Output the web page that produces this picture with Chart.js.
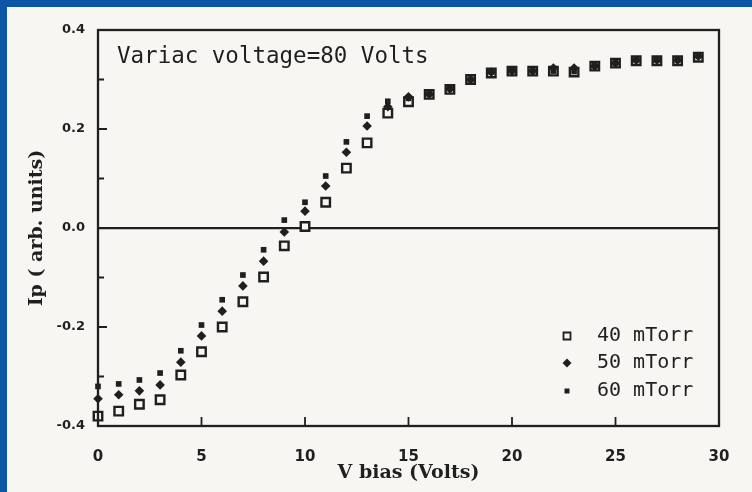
<!DOCTYPE html>
<html>
<head>
<meta charset="utf-8">
<script src="https://cdn.jsdelivr.net/npm/chart.js@4.4.1/dist/chart.umd.min.js"></script>
<style>
  html, body { margin: 0; padding: 0; }
  body { width: 752px; height: 492px; background: #0a56a5; position: relative; overflow: hidden; }
  #panel { position: absolute; left: 7px; top: 7px; width: 745px; height: 485px; background: #f7f6f3; }
  #wrap { position: absolute; left: 0; top: 0; width: 752px; height: 492px; }
</style>
</head>
<body>
<div id="panel"></div>
<div id="wrap"><canvas id="ipChart"></canvas></div>
<script>
// bias voltage (V)
const vBias = [0, 1, 2, 3, 4, 5, 6, 7, 8, 9, 10, 11, 12, 13, 14,
               15, 16, 17, 18, 19, 20, 21, 22, 23, 24, 25, 26, 27, 28, 29];

// probe current, arb. units
const ip40 = [-0.380, -0.370, -0.356, -0.347, -0.297, -0.250, -0.200, -0.149, -0.099, -0.036,
               0.003,  0.052,  0.121,  0.172,  0.232,  0.255,  0.270,  0.280,  0.300,  0.313,
               0.317,  0.317,  0.317,  0.315,  0.327,  0.333,  0.338,  0.338,  0.338,  0.345];
const ip50 = [-0.345, -0.337, -0.329, -0.317, -0.271, -0.218, -0.168, -0.117, -0.067, -0.008,
               0.034,  0.085,  0.153,  0.206,  0.245,  0.265,  0.270,  0.281,  0.300,  0.315,
               0.317,  0.317,  0.323,  0.323,  0.327,  0.333,  0.339,  0.339,  0.339,  0.347];
const ip60 = [-0.320, -0.315, -0.307, -0.293, -0.248, -0.196, -0.145, -0.095, -0.044,  0.016,
               0.052,  0.105,  0.174,  0.226,  0.256,  0.262,  0.272,  0.282,  0.300,  0.315,
               0.318,  0.318,  0.317,  0.316,  0.328,  0.334,  0.340,  0.340,  0.340,  0.348];

const seriesNames = ['40 mTorr', '50 mTorr', '60 mTorr'];
const xTicks = [0, 5, 10, 15, 20, 25, 30];
const yTicks = [-0.4, -0.2, 0.0, 0.2, 0.4];

const ink = '#1f1f1f';
const paper = '#f7f6f3';

function toPoints(ys) {
    return vBias.map((v, i) => ({ x: v, y: ys[i] }));
}

// frame, inward ticks, note and legend
const framePlugin = {
    id: 'frame',
    afterDraw(chart) {
        const { ctx, chartArea: a, scales } = chart;
        ctx.save();
        ctx.strokeStyle = ink;
        ctx.lineWidth = 2.3;
        ctx.strokeRect(a.left, a.top, a.right - a.left, a.bottom - a.top);

        ctx.lineWidth = 1.8;
        ctx.beginPath();
        for (let k = -3; k <= 3; k++) {
            const y = scales.y.getPixelForValue(k / 10);
            const len = (k % 2 === 0) ? 9 : 6;
            ctx.moveTo(a.left, y);
            ctx.lineTo(a.left + len, y);
        }
        xTicks.slice(1, -1).forEach(v => {
            const x = scales.x.getPixelForValue(v);
            ctx.moveTo(x, a.bottom);
            ctx.lineTo(x, a.bottom - 9);
        });
        ctx.stroke();

        ctx.fillStyle = ink;
        ctx.textBaseline = 'middle';
        ctx.textAlign = 'left';
        ctx.font = '22.5px "DejaVu Sans Mono"';
        ctx.fillText('Variac voltage=80 Volts', 117, 57);

        // legend
        ctx.font = '20px "DejaVu Sans Mono"';
        const rows = [336, 363, 391];
        chart.data.datasets.forEach((ds, i) => {
            const mx = 567, my = rows[i];
            ctx.beginPath();
            if (ds.pointStyle === 'rectRot') {
                ctx.moveTo(mx, my - 4.5); ctx.lineTo(mx + 4.5, my);
                ctx.lineTo(mx, my + 4.5); ctx.lineTo(mx - 4.5, my);
                ctx.closePath();
                ctx.fill();
            } else if (ds.borderWidth > 0) {
                ctx.lineWidth = 1.8;
                ctx.rect(mx - 3.5, my - 3.5, 7, 7);
                ctx.stroke();
            } else {
                ctx.rect(mx - 2.5, my - 2.5, 5, 5);
                ctx.fill();
            }
            ctx.fillText(ds.label, 597, my);
        });
        ctx.restore();
    }
};

new Chart(document.getElementById('ipChart'), {
    type: 'scatter',
    data: {
        datasets: [
            { label: seriesNames[0], data: toPoints(ip40), pointStyle: 'rect', pointRadius: 6,
              borderWidth: 2.4, borderColor: ink, backgroundColor: paper, order: 3, clip: false },
            { label: seriesNames[1], data: toPoints(ip50), pointStyle: 'rectRot', pointRadius: 4.8,
              borderWidth: 0, borderColor: ink, backgroundColor: ink, order: 2, clip: false },
            { label: seriesNames[2], data: toPoints(ip60), pointStyle: 'rect', pointRadius: 4,
              borderWidth: 0, borderColor: ink, backgroundColor: ink, order: 1, clip: false }
        ]
    },
    options: {
        responsive: true,
        maintainAspectRatio: false,
        animation: false,
        layout: { padding: { left: 0, top: 30, right: 33, bottom: 0 } },
        plugins: { legend: { display: false }, tooltip: { enabled: false } },
        elements: { point: { hoverRadius: 0 } },
        scales: {
            x: {
                type: 'linear',
                min: 0,
                max: 30,
                afterFit(scale) { scale.height = 66; },
                afterBuildTicks(scale) { scale.ticks = xTicks.map(v => ({ value: v })); },
                grid: { display: false },
                border: { display: false },
                ticks: {
                    padding: 14,
                    color: ink,
                    font: { family: 'DejaVu Sans', weight: 'bold', size: 15 }
                },
                title: {
                    display: true,
                    text: 'V bias (Volts)',
                    color: ink,
                    padding: { top: 0, bottom: 8 },
                    font: { family: 'DejaVu Serif', weight: 'bold', size: 19 }
                }
            },
            y: {
                type: 'linear',
                min: -0.4,
                max: 0.4,
                afterFit(scale) { scale.width = 98; },
                ticks: {
                    stepSize: 0.1,
                    padding: 13,
                    color: ink,
                    autoSkip: false,
                    font: { family: 'DejaVu Sans', weight: 'bold', size: 13 },
                    callback(v) {
                        const r = Math.round(v * 10);
                        return (r % 2 === 0 && yTicks.includes(r / 10)) ? (r / 10).toFixed(1) : '';
                    }
                },
                grid: {
                    drawTicks: false,
                    lineWidth: 2.2,
                    color: c => (c.tick && Math.abs(c.tick.value) < 1e-9) ? ink : 'rgba(0,0,0,0)'
                },
                border: { display: false },
                title: {
                    display: true,
                    text: 'Ip ( arb. units)',
                    color: ink,
                    padding: { top: 26, bottom: 0 },
                    font: { family: 'DejaVu Serif', weight: 'bold', size: 19 }
                }
            }
        }
    },
    plugins: [framePlugin]
});
</script>
</body>
</html>
